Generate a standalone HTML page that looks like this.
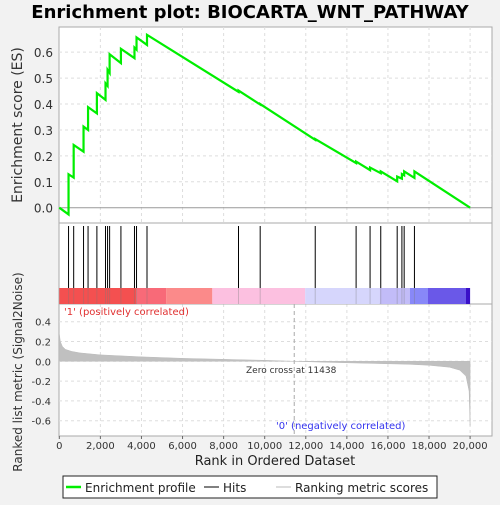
<!DOCTYPE html>
<html><head><meta charset="utf-8"><style>
body{margin:0;background:#f2f2f2;width:500px;height:500px;overflow:hidden;font-family:"Liberation Sans","DejaVu Sans",sans-serif}
</style></head><body>
<svg id="c" width="500" height="500" xmlns="http://www.w3.org/2000/svg" style="font-family:'DejaVu Sans','Liberation Sans',sans-serif">
<text x="250" y="18" text-anchor="middle" font-size="18" font-weight="bold" fill="#000">Enrichment plot: BIOCARTA_WNT_PATHWAY</text>
<rect x="59" y="27" width="433" height="409" fill="#fff" stroke="#aaa"/>
<g id="grid"></g>
<line x1="59" y1="223" x2="492" y2="223" stroke="#aaa"/>
<line x1="59" y1="304" x2="492" y2="304" stroke="#aaa"/>
<g id="colorbar"></g>
<g id="hits"></g>
<g id="metric"></g>
<polyline id="es" fill="none" stroke="#00ee00" stroke-width="2.2"/>
<g id="axes" font-size="11" fill="#333"></g>
<text x="64" y="315" font-size="10" fill="#e03030">'1' (positively correlated)</text>
<text x="276" y="429" font-size="10" fill="#3333ee">'0' (negatively correlated)</text>
<text x="246" y="373" font-size="9" fill="#333">Zero cross at 11438</text>
<text x="22" y="125" font-size="14" fill="#333" text-anchor="middle" transform="rotate(-90 22 125)">Enrichment score (ES)</text>
<text x="22" y="372" font-size="12" fill="#333" text-anchor="middle" transform="rotate(-90 22 372)">Ranked list metric (Signal2Noise)</text>
<text x="275" y="465" font-size="13" fill="#222" text-anchor="middle">Rank in Ordered Dataset</text>
<g>
<rect x="63" y="476" width="374" height="22" fill="#fff" stroke="#222"/>
<line x1="66" y1="487" x2="81" y2="487" stroke="#00ee00" stroke-width="2.5"/>
<text x="85" y="492" font-size="12" fill="#222">Enrichment profile</text>
<line x1="204" y1="487" x2="219" y2="487" stroke="#000"/>
<text x="223" y="492" font-size="12" fill="#222">Hits</text>
<line x1="276" y1="487" x2="291" y2="487" stroke="#bbb"/>
<text x="295" y="492" font-size="12" fill="#222">Ranking metric scores</text>
</g>
</svg>
<script>
const hitRanks=[450,700,1180,1400,1830,2250,2350,2450,3000,3660,3760,4270,8725,9780,12460,14450,15130,15650,16450,16680,16790,17290];
const esBefore=[-0.026,0.116,0.216,0.30,0.364,0.416,0.47,0.52,0.558,0.577,0.61,0.628,0.447,0.398,0.262,0.172,0.145,0.133,0.102,0.112,0.125,0.115];
const esAfter=[0.129,0.242,0.313,0.388,0.442,0.48,0.532,0.592,0.613,0.618,0.657,0.667,0.452,0.40,0.265,0.178,0.155,0.14,0.12,0.13,0.14,0.14];
const esTicks=[0.0,0.1,0.2,0.3,0.4,0.5,0.6];
const metricRanks=[0,50,150,300,600,1000,2000,4000,6000,8000,10000,11438,13000,15000,17000,18000,19000,19500,19800,19950,20000];
const metricVals=[0.28,0.2,0.15,0.12,0.1,0.085,0.065,0.045,0.03,0.02,0.01,0,-0.01,-0.02,-0.03,-0.04,-0.06,-0.09,-0.15,-0.3,-0.65];
const metricTicks=[0.4,0.2,0.0,-0.2,-0.4,-0.6];
const xTicks=[0,2000,4000,6000,8000,10000,12000,14000,16000,18000,20000];
const N=20000, zeroCross=11438;
const barStops=[0,3750,5200,7450,11970,15600,17070,17950,19800,20000];
const barColors=['#f45050','#f86a78','#fb8a8a','#fcc0e0','#d6d6fc','#c2bcf8','#8888f8','#6a58e8','#3a10c8'];
const X=r=>59.3+r*0.02054;
const YE=v=>207.7-v*259.2;
const YM=v=>361.3-v*99;
const NS='http://www.w3.org/2000/svg';
function mk(tag,attrs,parent){const e=document.createElementNS(NS,tag);for(const k in attrs)e.setAttribute(k,attrs[k]);document.getElementById(parent).appendChild(e);return e;}
// grid
xTicks.forEach(t=>{if(t===0)return;
 let g=mk('line',{x1:X(t),x2:X(t),y1:27,y2:223,stroke:'#ddd','stroke-dasharray':'3,3'},'grid');
 
 
 let g2=mk('line',{x1:X(t),x2:X(t),y1:304,y2:436,stroke:'#ddd','stroke-dasharray':'3,3'},'grid');
 
 });
esTicks.forEach(t=>{let g=mk('line',{x1:59,x2:492,y1:YE(t),y2:YE(t),stroke:t===0?'#999':'#ddd','stroke-dasharray':t===0?'':'3,3'},'grid');
 
 });
metricTicks.forEach(t=>{let g=mk('line',{x1:59,x2:492,y1:YM(t),y2:YM(t),stroke:'#ddd','stroke-dasharray':'3,3'},'grid');
 
 });
let zc=mk('line',{x1:X(zeroCross),x2:X(zeroCross),y1:304,y2:436,stroke:'#aaa','stroke-dasharray':'4,3'},'grid');


// colorbar
for(let i=0;i<barColors.length;i++){let r=mk('rect',{x:X(barStops[i]),y:288,width:X(barStops[i+1])-X(barStops[i]),height:16,fill:barColors[i]},'colorbar');
 
 }
// hits
hitRanks.forEach(r=>{let l=mk('line',{x1:X(r),x2:X(r),y1:226,y2:288,stroke:'#000','stroke-width':1},'hits');
 
 
 let l2=mk('line',{x1:X(r),x2:X(r),y1:288,y2:304,stroke:'rgba(120,120,120,0.35)','stroke-width':1},'hits');
 
 });
// metric area
let d='M'+X(0)+','+YM(0);
metricRanks.forEach((r,i)=>{d+=' L'+X(r)+','+YM(metricVals[i]);});
d+=' L'+X(N)+','+YM(0)+' Z';
let ma=mk('path',{d:d,fill:'#c0c0c0',stroke:'#bbb','stroke-width':0.5},'metric');


// ES
let pts=[[X(0),YE(0)]];
hitRanks.forEach((r,i)=>{pts.push([X(r),YE(esBefore[i])]);pts.push([X(r),YE(esAfter[i])]);});
pts.push([X(N),YE(0)]);
document.getElementById('es').setAttribute('points',pts.map(p=>p.join(',')).join(' '));
// axes labels
esTicks.forEach(t=>{let e=mk('text',{x:53,y:YE(t)+5,'text-anchor':'end','font-size':12},'axes');e.textContent=t.toFixed(1);
 
 });
metricTicks.forEach(t=>{let e=mk('text',{x:51,y:YM(t)+4,'text-anchor':'end','font-size':10},'axes');e.textContent=t.toFixed(1);
 
 });
xTicks.forEach(t=>{let e=mk('text',{x:X(t),y:449,'text-anchor':'middle','font-size':10},'axes');e.textContent=t.toLocaleString('en-US');
 
 
 mk('line',{x1:X(t),x2:X(t),y1:436,y2:439,stroke:'#666'},'axes');});
</script>
</body></html>
